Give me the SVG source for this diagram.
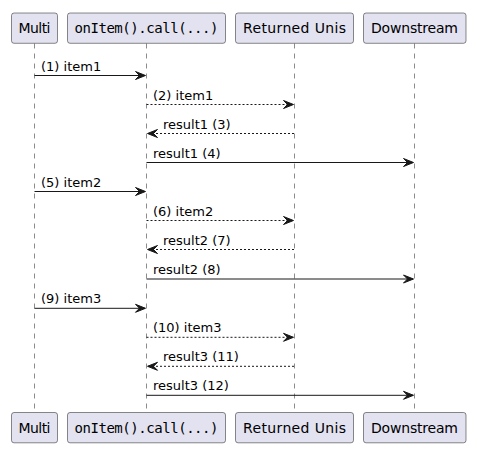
<svg xmlns="http://www.w3.org/2000/svg" width="480" height="453" viewBox="0 0 480 453">
<style>
.box{fill:#E2E2F0;stroke:#181818;stroke-width:0.5}
.pt{font-family:"DejaVu Sans",sans-serif;font-size:14px;fill:#000;text-anchor:middle}
.mono{font-family:"DejaVu Sans Mono",monospace}
.life{stroke:#181818;stroke-width:0.5;stroke-dasharray:5,5;fill:none}
.msg{stroke:#181818;stroke-width:1;fill:none}
.dash{stroke-dasharray:2,2}
.lbl{font-family:"DejaVu Sans",sans-serif;font-size:13px;fill:#000}
.ah{fill:#181818;stroke:#181818;stroke-width:1}
</style>
<rect width="480" height="453" fill="#FFFFFF"/>
<g id="lifelines">
<line class="life" x1="34.5" y1="43.5" x2="34.5" y2="412"/>
<line class="life" x1="146.5" y1="43.5" x2="146.5" y2="412"/>
<line class="life" x1="294.5" y1="43.5" x2="294.5" y2="412"/>
<line class="life" x1="414.5" y1="43.5" x2="414.5" y2="412"/>
</g>
<g id="multi">
<rect class="box" x="11.5" y="13" width="46" height="30.3" rx="2.5"/>
<text class="pt" x="34.5" y="33" textLength="32" lengthAdjust="spacing">Multi</text>
<rect class="box" x="11.5" y="412.5" width="46" height="30.3" rx="2.5"/>
<text class="pt" x="34.5" y="432.5" textLength="32" lengthAdjust="spacing">Multi</text>
</g>
<g id="onitem">
<rect class="box" x="67.5" y="13" width="158" height="30.3" rx="2.5"/>
<text class="pt mono" x="146.5" y="33" textLength="144" lengthAdjust="spacing">onItem().call(...)</text>
<rect class="box" x="67.5" y="412.5" width="158" height="30.3" rx="2.5"/>
<text class="pt mono" x="146.5" y="432.5" textLength="144" lengthAdjust="spacing">onItem().call(...)</text>
</g>
<g id="returned">
<rect class="box" x="235.5" y="13" width="118" height="30.3" rx="2.5"/>
<text class="pt" x="294.5" y="33" textLength="103" lengthAdjust="spacing">Returned Unis</text>
<rect class="box" x="235.5" y="412.5" width="118" height="30.3" rx="2.5"/>
<text class="pt" x="294.5" y="432.5" textLength="103" lengthAdjust="spacing">Returned Unis</text>
</g>
<g id="downstream">
<rect class="box" x="363.5" y="13" width="102.5" height="30.3" rx="2.5"/>
<text class="pt" x="414.5" y="33" textLength="87" lengthAdjust="spacing">Downstream</text>
<rect class="box" x="363.5" y="412.5" width="102.5" height="30.3" rx="2.5"/>
<text class="pt" x="414.5" y="432.5" textLength="87" lengthAdjust="spacing">Downstream</text>
</g>
<g id="connectors">
<!-- 1 -->
<line class="msg" x1="34.5" y1="75.5" x2="145" y2="75.5"/>
<polygon class="ah" points="135.5,71.5 145.5,75.5 135.5,79.5 139.5,75.5"/>
<text class="lbl" x="41" y="70.5">(1) item1</text>
<!-- 2 -->
<line class="msg dash" x1="146.5" y1="104.5" x2="293" y2="104.5"/>
<polygon class="ah" points="283.5,100.5 293.5,104.5 283.5,108.5 287.5,104.5"/>
<text class="lbl" x="153" y="99.5">(2) item1</text>
<!-- 3 -->
<line class="msg dash" x1="148" y1="133.5" x2="294.5" y2="133.5"/>
<polygon class="ah" points="157.5,129.5 147.5,133.5 157.5,137.5 153.5,133.5"/>
<text class="lbl" x="163" y="128.5">result1 (3)</text>
<!-- 4 -->
<line class="msg" x1="146.5" y1="162.5" x2="413" y2="162.5"/>
<polygon class="ah" points="403.5,158.5 413.5,162.5 403.5,166.5 407.5,162.5"/>
<text class="lbl" x="153" y="157.5">result1 (4)</text>
<!-- 5 -->
<line class="msg" x1="34.5" y1="191.5" x2="145" y2="191.5"/>
<polygon class="ah" points="135.5,187.5 145.5,191.5 135.5,195.5 139.5,191.5"/>
<text class="lbl" x="41" y="186.5">(5) item2</text>
<!-- 6 -->
<line class="msg dash" x1="146.5" y1="220.5" x2="293" y2="220.5"/>
<polygon class="ah" points="283.5,216.5 293.5,220.5 283.5,224.5 287.5,220.5"/>
<text class="lbl" x="153" y="215.5">(6) item2</text>
<!-- 7 -->
<line class="msg dash" x1="148" y1="249.5" x2="294.5" y2="249.5"/>
<polygon class="ah" points="157.5,245.5 147.5,249.5 157.5,253.5 153.5,249.5"/>
<text class="lbl" x="163" y="244.5">result2 (7)</text>
<!-- 8 -->
<line class="msg" x1="146.5" y1="279" x2="413" y2="279"/>
<polygon class="ah" points="403.5,275 413.5,279 403.5,283 407.5,279"/>
<text class="lbl" x="153" y="274">result2 (8)</text>
<!-- 9 -->
<line class="msg" x1="34.5" y1="308.3" x2="145" y2="308.3"/>
<polygon class="ah" points="135.5,304.3 145.5,308.3 135.5,312.3 139.5,308.3"/>
<text class="lbl" x="41" y="303.3">(9) item3</text>
<!-- 10 -->
<line class="msg dash" x1="146.5" y1="337.3" x2="293" y2="337.3"/>
<polygon class="ah" points="283.5,333.3 293.5,337.3 283.5,341.3 287.5,337.3"/>
<text class="lbl" x="153" y="332.3">(10) item3</text>
<!-- 11 -->
<line class="msg dash" x1="148" y1="366.3" x2="294.5" y2="366.3"/>
<polygon class="ah" points="157.5,362.3 147.5,366.3 157.5,370.3 153.5,366.3"/>
<text class="lbl" x="163" y="361.3">result3 (11)</text>
<!-- 12 -->
<line class="msg" x1="146.5" y1="395.3" x2="413" y2="395.3"/>
<polygon class="ah" points="403.5,391.3 413.5,395.3 403.5,399.3 407.5,395.3"/>
<text class="lbl" x="153" y="390.3">result3 (12)</text>
</g>
</svg>
